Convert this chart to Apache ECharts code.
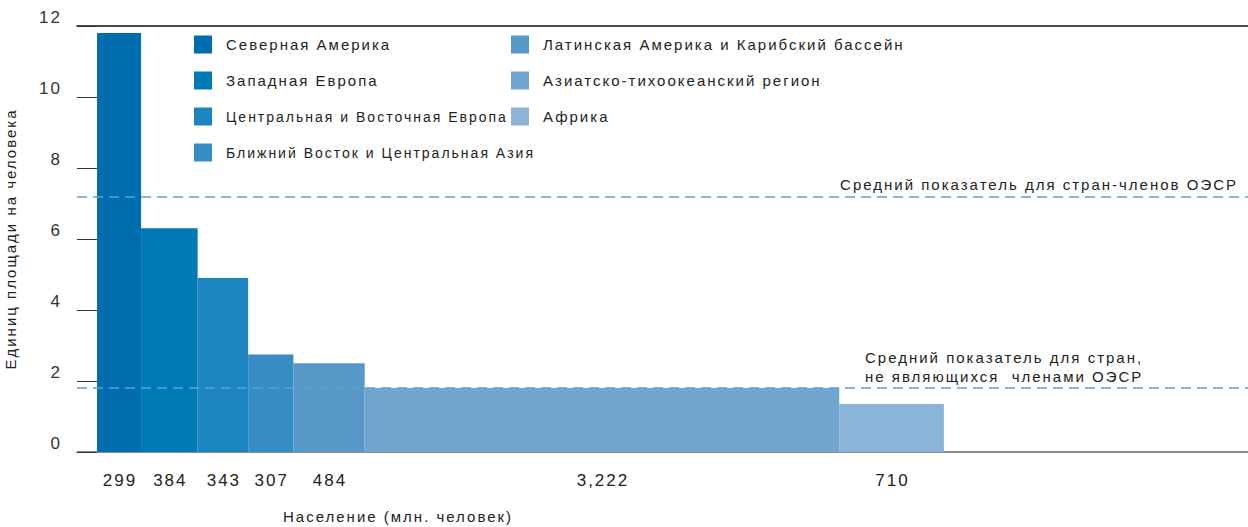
<!DOCTYPE html>
<html>
<head>
    <meta charset="utf-8">
    <title>Площадь на человека по регионам</title>
    <style>
        html, body { margin: 0; padding: 0; background: #fff; }
        #chart { width: 1248px; height: 527px; }
        /* в оригинале текст набран с разрядкой */
        #chart text { letter-spacing: 2px; }
    </style>
</head>
<body>
    <div id="chart"></div>
    <script src="https://cdn.jsdelivr.net/npm/echarts@6/dist/echarts.min.js"></script>
    <script>
        // данные с картинки
        var regions = ['Северная Америка', 'Западная Европа', 'Центральная и Восточная Европа',
                       'Ближний Восток и Центральная Азия', 'Латинская Америка и Карибский бассейн',
                       'Азиатско-тихоокеанский регион', 'Африка'];
        var population = [299, 384, 343, 307, 484, 3222, 710];
        var areaPerPerson = [11.8, 6.3, 4.9, 2.75, 2.5, 1.8, 1.35];
        var colors = ['#006eae', '#0079b7', '#1c84bf', '#368dc4', '#5798c9', '#70a5cf', '#8cb3d8'];
        var yTicks = [0, 2, 4, 6, 8, 10, 12];
        var oecdAvg = 7.2;
        var nonOecdAvg = 1.8;

        var font = 'Liberation Sans, Arial, sans-serif';
        var chart = echarts.init(document.getElementById('chart'), null, { renderer: 'svg' });

        function renderItem(params, api) {
            var p0 = api.coord([api.value(0), api.value(2)]);
            var p1 = api.coord([api.value(1), 0]);
            var pop = api.value(3);
            return {
                type: 'group',
                children: [{
                    type: 'rect',
                    shape: { x: p0[0], y: p0[1], width: p1[0] - p0[0], height: p1[1] - p0[1] },
                    style: { fill: api.visual('color') }
                }, {
                    type: 'text',
                    style: {
                        text: pop.toLocaleString('en-US'),
                        x: (p0[0] + p1[0]) / 2 + 1,
                        y: p1[1] + 28,
                        align: 'center',
                        verticalAlign: 'middle',
                        fill: '#222',
                        font: '17px ' + font
                    }
                }]
            };
        }

        // накопленная ширина столбцов = население
        var series = [];
        var start = 0;
        for (var i = 0; i < regions.length; i++) {
            series.push({
                name: regions[i],
                type: 'custom',
                renderItem: renderItem,
                itemStyle: { color: colors[i] },
                encode: { x: [0, 1], y: 2 },
                clip: false,
                data: [[start, start + population[i], areaPerPerson[i], population[i]]]
            });
            start += population[i];
        }

        series[0].markLine = {
            silent: true,
            symbol: 'none',
            lineStyle: { color: '#5aa3cf', type: [10, 6], width: 1.5 },
            label: { color: '#222', fontSize: 15, fontFamily: font },
            data: [{
                yAxis: oecdAvg,
                label: { formatter: 'Средний показатель для стран-членов ОЭСР', position: 'insideEndTop', distance: [10, 4] }
            }, {
                yAxis: nonOecdAvg,
                label: { formatter: 'Средний показатель для стран,\nне являющихся  членами ОЭСР', position: 'insideStartTop', distance: [788, 2], lineHeight: 19 }
            }]
        };

        // длинные подписи в первой колонке чуть мельче, чтобы не наезжали на вторую
        var legendItems = regions.map(function (name) {
            return name.length > 25 && regions.indexOf(name) < 4
                ? { name: name, textStyle: { fontSize: 14 } }
                : { name: name };
        });

        var legendBase = {
            orient: 'vertical',
            top: 31,
            padding: 0,
            itemWidth: 18,
            itemHeight: 18,
            itemGap: 9,
            icon: 'rect',
            selectedMode: false,
            textStyle: { color: '#222', fontSize: 15, fontFamily: font, lineHeight: 18, padding: [9, 0, 0, 9] }
        };

        option = {
            animation: false,
            backgroundColor: '#fff',
            grid: { left: 77, right: 0, top: 26, bottom: 75, containLabel: false, outerBoundsMode: 'none' },
            legend: [
                Object.assign({}, legendBase, { left: 194, data: legendItems.slice(0, 4) }),
                Object.assign({}, legendBase, { left: 511, data: legendItems.slice(4) })
            ],
            xAxis: [{
                type: 'value',
                min: -136,
                max: 7814,
                axisLine: { show: true, onZero: false, lineStyle: { color: '#666', width: 1.5 } },
                axisTick: { show: false },
                axisLabel: { show: false },
                splitLine: { show: false }
            }, {
                type: 'value',
                position: 'top',
                min: -136,
                max: 7814,
                axisLine: { show: true, onZero: false, lineStyle: { color: '#111', width: 1.5 } },
                axisTick: { show: false },
                axisLabel: { show: false },
                splitLine: { show: false }
            }],
            yAxis: {
                type: 'value',
                min: yTicks[0],
                max: yTicks[yTicks.length - 1],
                interval: 2,
                name: 'Единиц площади на человека',
                nameLocation: 'middle',
                nameGap: 59,
                nameTextStyle: { color: '#222', fontSize: 15, fontFamily: font },
                axisLine: { show: false, onZero: false },
                axisTick: { show: true, inside: true, length: 20, lineStyle: { color: '#333' } },
                axisLabel: { color: '#333', fontSize: 17, fontFamily: font, margin: 15, verticalAlign: 'bottom' },
                splitLine: { show: false }
            },
            graphic: [{
                type: 'text',
                left: 283,
                top: 509,
                style: { text: 'Население (млн. человек)', fill: '#222', font: '15px ' + font }
            }],
            series: series
        };

        chart.setOption(option);
    </script>
</body>
</html>
